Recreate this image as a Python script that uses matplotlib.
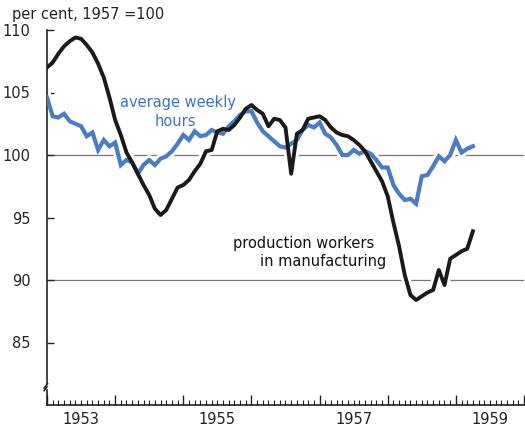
import matplotlib
matplotlib.use("Agg")
import matplotlib.pyplot as plt
import matplotlib.transforms as mtransforms
import numpy as np

# ---- data (monthly, Jan 1953 .. Apr 1959), index 1957 = 100 ----
start_year = 1953
workers = [107.0, 107.4, 108.1, 108.7, 109.1, 109.4, 109.3, 108.8, 108.2, 107.3, 106.2, 104.6,
           102.8, 101.6, 100.2, 99.4, 98.5, 97.6, 96.8, 95.7, 95.2, 95.6, 96.5, 97.4,
           97.6, 98.0, 98.7, 99.3, 100.3, 100.4, 101.9, 102.1, 102.0, 102.4, 103.0, 103.7,
           104.0, 103.6, 103.3, 102.3, 102.9, 102.8, 102.2, 98.5, 101.7, 102.0, 102.9, 103.0,
           103.1, 102.8, 102.2, 101.8, 101.6, 101.5, 101.2, 100.8, 100.3, 99.5, 98.7, 97.9,
           96.7, 94.6, 92.7, 90.4, 88.8, 88.4, 88.7, 89.0, 89.2, 90.8, 89.6, 91.7,
           92.0, 92.3, 92.5, 93.9]
hours = [104.6, 103.1, 103.0, 103.3, 102.7, 102.5, 102.3, 101.5, 101.8, 100.4, 101.2, 100.7,
         101.0, 99.2, 99.6, 99.4, 98.5, 99.2, 99.6, 99.2, 99.7, 99.9, 100.3, 100.9,
         101.6, 101.2, 101.9, 101.5, 101.6, 102.0, 101.8, 101.7, 102.3, 102.7, 103.2, 103.5,
         103.5, 102.6, 101.9, 101.5, 101.1, 100.7, 100.6, 100.9, 101.2, 102.0, 102.4, 102.2,
         102.6, 101.7, 101.4, 100.8, 100.0, 100.0, 100.4, 100.1, 100.3, 100.1, 99.6, 99.0,
         99.0, 97.6, 96.9, 96.4, 96.5, 96.1, 98.3, 98.4, 99.1, 99.9, 99.5, 100.0,
         101.2, 100.2, 100.5, 100.7]
year_labels = [1953, 1955, 1957, 1959]
y_ticks = [85, 90, 95, 100, 105, 110]
ref_lines = [90, 100]
hours_label = ["average weekly", "hours"]
workers_label = ["production workers", "in manufacturing"]
unit_label = "per cent, 1957 =100"

months = np.arange(len(workers))
x = start_year + months / 12.0

BLUE = "#4a7cc5"
BLUE_TXT = "#3e72c2"
BLACK = "#1a1a1a"
AX = "#222222"

plt.rcParams['font.family'] = ['DejaVu Sans']

fig = plt.figure(figsize=(5.25, 4.3), dpi=100)
ax = fig.add_axes([47 / 525, 1 - 405 / 430, (524 - 47) / 525, (405 - 30) / 430])
ax.set_xlim(1953, 1960)
ax.set_ylim(80, 110)

for s in ["top", "right", "left"]:
    ax.spines[s].set_visible(False)
ax.spines["bottom"].set_linewidth(1.2)
ax.spines["bottom"].set_color(AX)

# reference lines
for r in ref_lines:
    ax.axhline(r, color="#777777", lw=0.9, zorder=1)

# white halos under the curves (gap the reference lines only)
ax.plot(x, hours, color="white", lw=7, zorder=2)
ax.plot(x, workers, color="white", lw=7, zorder=2)
ax.plot(x, hours, color=BLUE, lw=3.0, solid_joinstyle="miter", zorder=3)
ax.plot(x, workers, color=BLACK, lw=2.8, solid_joinstyle="round", zorder=4)

# x ticks: year boundaries (major) and months (minor), no tick labels
ax.set_xticks(np.arange(1953, 1961))
ax.set_xticks(np.arange(1953, 1960, 1 / 12.0), minor=True)
ax.tick_params(axis="x", which="major", direction="in", length=7, width=1.0,
               labelbottom=False, color=AX)
ax.tick_params(axis="x", which="minor", direction="in", length=3.5, width=0.8,
               color=AX)
trans = mtransforms.blended_transform_factory(ax.transData, ax.transAxes)
for yr in year_labels:
    ax.text(yr + 0.5, -0.018, str(yr), transform=trans, ha="center", va="top",
            fontsize=10.5, color=AX)

# y ticks
ax.set_yticks(y_ticks)
ax.set_yticklabels([str(v) for v in y_ticks])
ax.tick_params(axis="y", direction="in", length=5, width=1.0, pad=12,
               labelsize=10.5, color=AX, labelcolor=AX)

# left spine with break
ytr = mtransforms.blended_transform_factory(ax.transAxes, ax.transData)
ax.plot([0, 0], [110, 81.75], transform=ytr, color=AX, lw=1.2, clip_on=False)
ax.plot([-0.006, 0.001], [81.35, 81.7], transform=ytr, color=AX, lw=1.2, clip_on=False)
ax.plot([-0.006, 0.0], [81.15, 81.45], transform=ytr, color=AX, lw=1.2, clip_on=False)
ax.plot([0, 0], [81.2, 80], transform=ytr, color=AX, lw=1.2, clip_on=False)

# annotations
ax.text(1954.92, 104.2, hours_label[0], ha="center", va="center", fontsize=10.5,
        color=BLUE_TXT, zorder=5)
ax.text(1954.88, 102.7, hours_label[1], ha="center", va="center", fontsize=10.5,
        color=BLUE_TXT, zorder=5)
ax.text(1955.73, 92.95, workers_label[0], ha="left", va="center", fontsize=10.5,
        color="#111111", zorder=5)
ax.text(1956.13, 91.5, workers_label[1], ha="left", va="center", fontsize=10.5,
        color="#111111", zorder=5)

fig.text(12 / 525, 1 - 15 / 430, unit_label, ha="left", va="center", fontsize=10.5,
         color=AX)

fig.savefig("out.png", dpi=100, facecolor="white")
